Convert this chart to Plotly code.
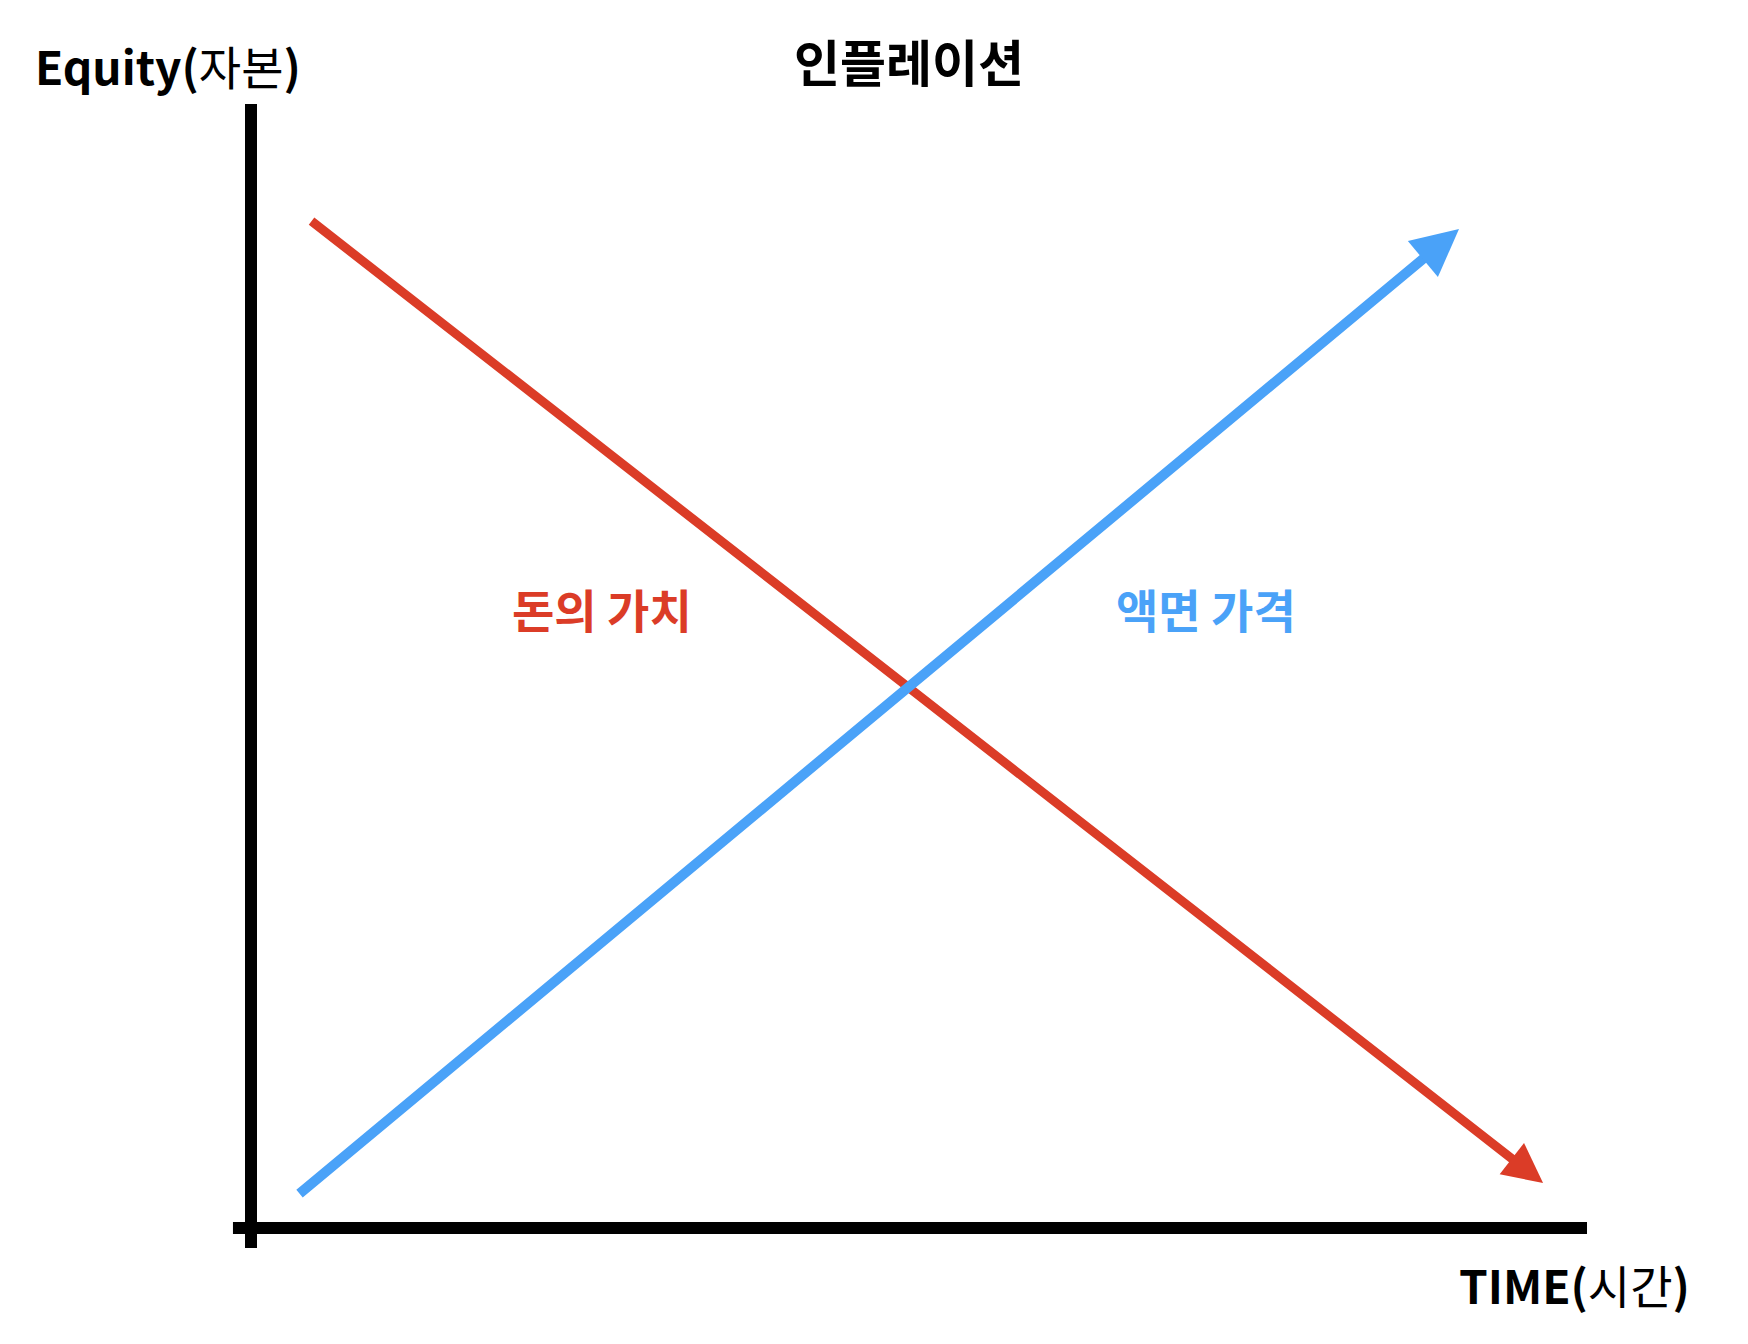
import plotly.graph_objects as go

# conceptual units: time 0..100 along the x axis, equity 0..100 up the y axis
money_t = [4.42, 96.71]      # 돈의 가치 (start, arrow tip)
money_v = [89.68, 4.0]
price_t = [3.52, 90.42]      # 액면 가격 (start, arrow tip)
price_v = [2.94, 88.88]

axis_x_t = [-1.35, 100]
axis_x_v = [0, 0]
axis_y_t = [0, 0]
axis_y_v = [-1.78, 100]

title = "인플레이션"
y_label = "<b>Equity(</b>자본<b>)</b>"
x_label = "<b>TIME(</b>시간<b>)</b>"
money_label = "돈의 가치"
price_label = "액면 가격"

RED = "#DB3C27"
BLUE = "#4AA2F8"
KR = "Noto Sans CJK KR"

fig = go.Figure()

fig.add_trace(go.Scatter(x=axis_x_t, y=axis_x_v, mode="lines",
                         line=dict(color="black", width=12), hoverinfo="skip"))
fig.add_trace(go.Scatter(x=axis_y_t, y=axis_y_v, mode="lines",
                         line=dict(color="black", width=12), hoverinfo="skip"))

# the two arrows
for t, v, color, w, size in [(money_t, money_v, RED, 9, 0.88),
                             (price_t, price_v, BLUE, 10, 0.94)]:
    fig.add_annotation(x=t[1], y=v[1], ax=t[0], ay=v[0], xref="x", yref="y",
                       axref="x", ayref="y", text="", showarrow=True,
                       arrowhead=2, arrowwidth=w, arrowsize=size, arrowcolor=color,
                       font=dict(size=1))

fig.add_annotation(x=26.27, y=55.16, xref="x", yref="y", text=money_label,
                   showarrow=False, font=dict(family=KR, size=46, color=RED, weight="bold"))
fig.add_annotation(x=71.48, y=55.16, xref="x", yref="y", text=price_label,
                   showarrow=False, font=dict(family=KR, size=46, color=BLUE, weight="bold"))

fig.add_annotation(x=0.52, y=0.955, xref="paper", yref="paper", text=title,
                   xanchor="center", yanchor="middle", showarrow=False,
                   font=dict(family=KR, size=50, color="black", weight="bold"))
fig.add_annotation(x=0.019, y=0.952, xref="paper", yref="paper", text=y_label,
                   xanchor="left", yanchor="middle", showarrow=False,
                   font=dict(family=KR, size=46, color="black"))
fig.add_annotation(x=0.968, y=0.045, xref="paper", yref="paper", text=x_label,
                   xanchor="right", yanchor="middle", showarrow=False,
                   font=dict(family=KR, size=46, color="black"))

fig.update_layout(width=1748, height=1344, margin=dict(l=0, r=0, t=0, b=0),
                  plot_bgcolor="white", paper_bgcolor="white", showlegend=False)
fig.update_xaxes(range=[-18.787, 112.05], visible=False, fixedrange=True)
fig.update_yaxes(range=[-10.32, 109.25], visible=False, fixedrange=True)

fig.write_html("out.html", config={"displayModeBar": False},
               post_script="document.body.style.margin='0';")
